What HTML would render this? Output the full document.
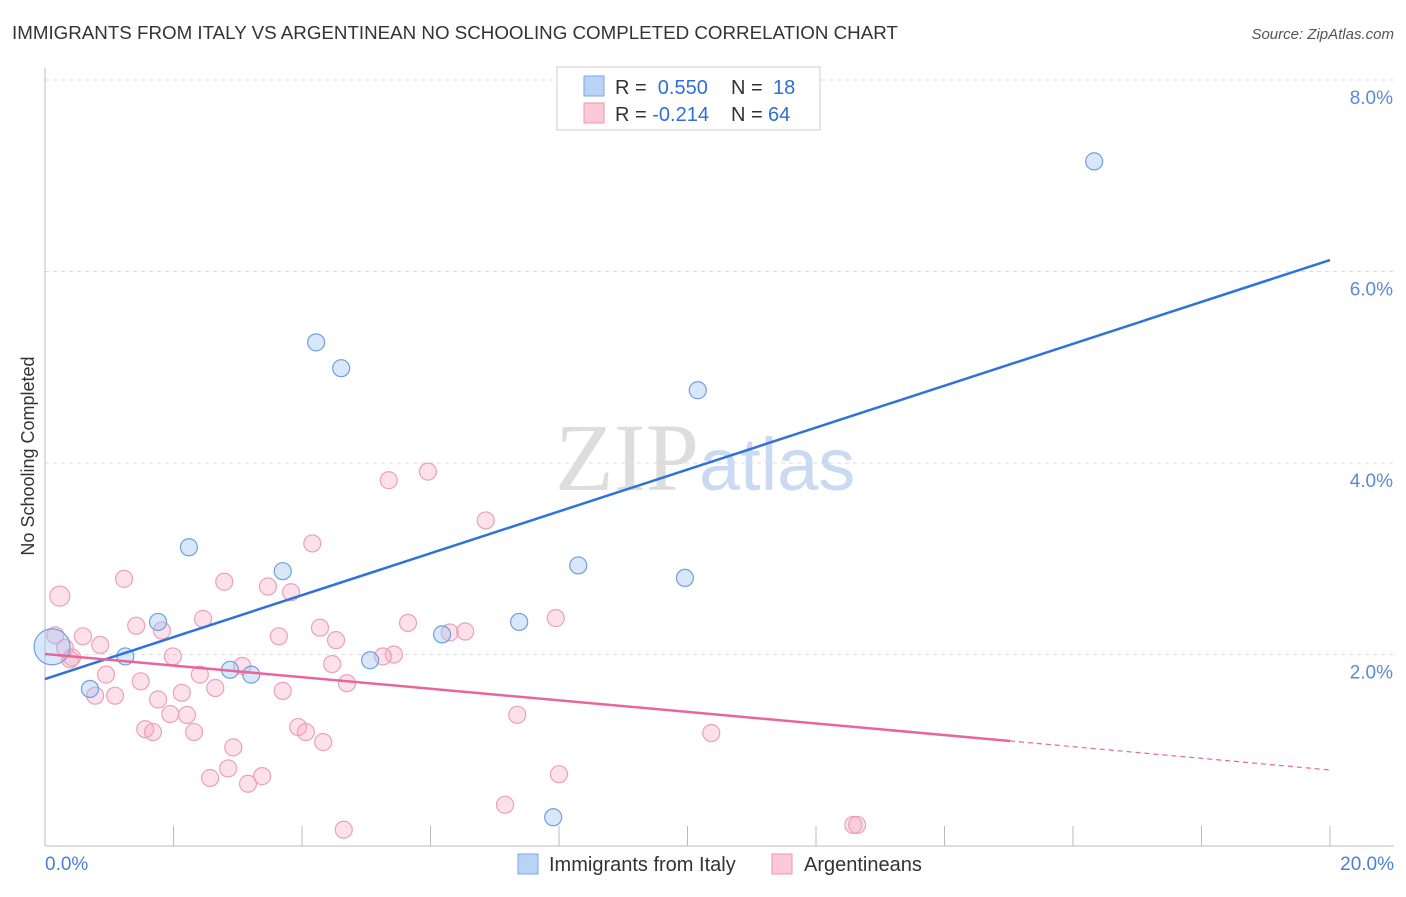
<!DOCTYPE html>
<html><head><meta charset="utf-8"><style>
body{margin:0;background:#fff;font-family:"Liberation Sans",sans-serif;}
</style></head><body>
<svg width="1406" height="892" xmlns="http://www.w3.org/2000/svg" font-family="Liberation Sans, sans-serif">
<text x="12" y="39" font-size="18.75" fill="#333">IMMIGRANTS FROM ITALY VS ARGENTINEAN NO SCHOOLING COMPLETED CORRELATION CHART</text>
<text x="1394" y="39" font-size="15" fill="#555" font-style="italic" text-anchor="end">Source: ZipAtlas.com</text>
<text x="34" y="456" font-size="18" fill="#333" text-anchor="middle" transform="rotate(-90 34 456)">No Schooling Completed</text>
<g id="grid"></g>
<g id="axes"></g>
<text x="555" y="490" font-size="96" fill="#ddd" font-family="Liberation Serif, serif">ZIP<tspan fill="#c9daf2" font-family="Liberation Sans, sans-serif" font-size="74">atlas</tspan></text>
<g id="pts"></g>
<g id="lines"></g>
<g>
<rect x="557" y="67" width="263" height="63" fill="#fff" stroke="#ccc"/>
<rect x="584" y="76" width="20" height="20" fill="#b9d3f7" stroke="#7aa6e6"/>
<rect x="584" y="103" width="20" height="20" fill="#fbc9d8" stroke="#ee94b1"/>
<text x="615" y="94" font-size="20" fill="#333">R = <tspan fill="#2f6fd6">&#160;0.550</tspan><tspan x="731">N = </tspan><tspan fill="#2f6fd6" x="773">18</tspan></text>
<text x="615" y="121" font-size="20" fill="#333">R = <tspan fill="#2f6fd6">-0.214</tspan><tspan x="731">N = </tspan><tspan fill="#2f6fd6" x="768">64</tspan></text>
</g>
<g>
<rect x="518" y="854" width="20" height="20" fill="#b9d3f7" stroke="#7aa6e6"/>
<text x="549" y="871" font-size="20" fill="#333">Immigrants from Italy</text>
<rect x="772" y="854" width="20" height="20" fill="#fbc9d8" stroke="#ee94b1"/>
<text x="804" y="871" font-size="20" fill="#333">Argentineans</text>
</g>
<text x="45" y="870" font-size="19" fill="#4a7fd4">0.0%</text>
<text x="1394" y="870" font-size="19" fill="#4a7fd4" text-anchor="end">20.0%</text>
</svg>
<script>
const yTicks=[2,4,6,8];
const xTicks=[2,4,6,8,10,12,14,16,18,20];
const italyX=[16.33,4.22,4.61,10.16,2.24,3.70,8.30,9.96,1.76,7.38,6.18,1.25,2.88,3.21,5.06,0.70,7.91,0.11];
const italyY=[7.15,5.26,4.99,4.76,3.12,2.87,2.93,2.80,2.34,2.34,2.21,1.98,1.84,1.79,1.94,1.64,0.30,2.08];
const argX=[0.23,0.16,0.59,0.86,0.42,0.95,0.78,1.09,1.49,1.23,1.42,1.82,1.99,1.76,2.13,2.41,2.65,1.95,2.21,1.56,1.68,2.32,2.79,2.46,2.93,2.85,2.57,3.16,3.38,3.47,3.83,4.16,3.64,3.70,4.28,4.53,4.47,4.70,3.94,4.06,4.33,5.35,5.96,6.86,5.65,5.43,5.26,6.30,6.54,4.65,7.16,7.35,8.00,7.95,10.37,12.58,12.64,0.39,0.31,3.07];
const argY=[2.61,2.20,2.19,2.10,1.97,1.79,1.57,1.57,1.72,2.79,2.30,2.25,1.98,1.53,1.60,1.79,1.65,1.378,1.368,1.22,1.19,1.19,2.76,2.372,1.03,0.81,0.71,0.65,0.73,2.71,2.65,3.16,2.19,1.62,2.28,2.15,1.90,1.70,1.242,1.19,1.085,3.82,3.91,3.40,2.33,1.999,1.98,2.23,2.24,0.17,0.43,1.37,0.75,2.38,1.18,0.22,0.22,1.95,2.07,1.88];
const italyTrend=[1.744,6.12];
const argTrend=[2.005,1.097,0.794];
const argSolidEnd=15.02;
const NS="http://www.w3.org/2000/svg";
const X=v=>45+v*64.25, Y=v=>846-v*95.75;
function mk(t,a,p){const e=document.createElementNS(NS,t);for(const k in a)e.setAttribute(k,a[k]);p.appendChild(e);return e;}
const grid=document.getElementById('grid');
yTicks.forEach(t=>{
 const l=mk('line',{x1:45,x2:1394,y1:Y(t),y2:Y(t),stroke:'#ddd','stroke-dasharray':'4,4'},grid);
 
 
 const tx=mk('text',{x:1393,y:Y(t)+24,'font-size':19,fill:'#5a8ad8','text-anchor':'end'},grid);
 tx.textContent=t.toFixed(1)+'%';
 
 
});
const ax=document.getElementById('axes');
const yl=mk('line',{x1:45,x2:45,y1:68,y2:846,stroke:'#bbb'},ax);


const xl=mk('line',{x1:45,x2:1394,y1:846,y2:846,stroke:'#bbb'},ax);


xTicks.forEach(t=>{
 const l=mk('line',{x1:X(t),x2:X(t),y1:826,y2:846,stroke:'#bbb'},ax);
 
 
});
const pts=document.getElementById('pts');
argX.forEach((v,i)=>{
 const c=mk('circle',{cx:X(v),cy:Y(argY[i]),r:i==0?10:8.5,fill:'rgba(246,170,195,0.35)',stroke:'#eda0b9','stroke-width':1.2},pts);
 
 
});
italyX.forEach((v,i)=>{
 const c=mk('circle',{cx:X(v),cy:Y(italyY[i]),r:i==17?18:8.5,fill:'rgba(160,196,243,0.4)',stroke:'#6f9fe0','stroke-width':1.2},pts);
 
 
});
const ln=document.getElementById('lines');
const b=mk('line',{x1:X(0),y1:Y(italyTrend[0]),x2:X(20),y2:Y(italyTrend[1]),stroke:'#2f73d9','stroke-width':2.5},ln);


const p=mk('line',{x1:X(0),y1:Y(argTrend[0]),x2:X(argSolidEnd),y2:Y(argTrend[1]),stroke:'#e8679a','stroke-width':2.5},ln);


const pd=mk('line',{x1:X(argSolidEnd),y1:Y(argTrend[1]),x2:X(20),y2:Y(argTrend[2]),stroke:'#e8679a','stroke-width':1.2,'stroke-dasharray':'5,4'},ln);


</script>
</body></html>
